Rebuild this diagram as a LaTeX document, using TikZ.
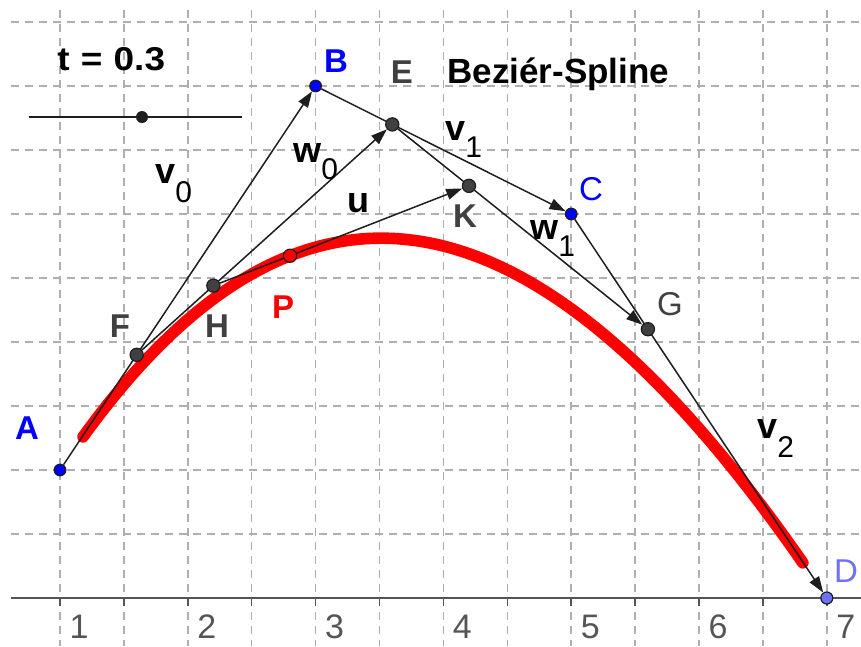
\documentclass[tikz,border=0pt]{standalone}
\usepackage{fontspec}
\setmainfont{Liberation Sans}
\usetikzlibrary{arrows.meta}
\pgfdeclarelayer{bg}
\pgfsetlayers{bg,main}
\definecolor{ptblue}{RGB}{0,0,255}
\definecolor{dlav}{RGB}{112,112,255}
\definecolor{ptgray}{RGB}{64,64,64}
\definecolor{lblgray}{RGB}{64,64,64}
\definecolor{gridgray}{RGB}{175,175,175}
\definecolor{axisgray}{RGB}{85,85,85}
\definecolor{linecol}{RGB}{30,30,30}
\begin{document}
\begin{tikzpicture}[x=63.9pt,y=64pt,
  pt/.style={circle, draw=linecol, line width=0.6pt, inner sep=0pt, minimum size=#1},
  bluept/.style={pt=5.8pt, fill=ptblue},
  graypt/.style={pt=6.6pt, fill=ptgray},
  lbl/.style={anchor=base, inner sep=0pt, font=\fontsize{16.5}{19}\selectfont},
  blbl/.style={lbl, font=\fontsize{16.5}{19}\selectfont\bfseries},
  vec/.style={draw=linecol, line width=0.75pt, -{Triangle[length=8pt,width=5.5pt]}},
  gridline/.style={gridgray, line width=0.75pt, dash pattern=on 4pt off 3pt},
  vlbl/.style={anchor=base west, inner sep=0pt, font=\fontsize{18}{20}\selectfont\bfseries},
]
\useasboundingbox (0.5305,-0.375) rectangle (7.2676,4.6719);

% points
\node[bluept] (A) at (1,1) {};
\node[bluept] (B) at (3,4) {};
\node[bluept] (C) at (5,3) {};
\node[pt=6pt, fill=dlav] (D) at (7,0) {};
\node[graypt] (F) at (1.6,1.9) {};
\node[graypt] (E) at (3.6,3.7) {};
\node[graypt] (G) at (5.6,2.1) {};
\node[graypt] (H) at (2.2,2.44) {};
\node[graypt] (K) at (4.2,3.22) {};
\node[pt=6.6pt, fill=red] (P) at (2.8,2.674) {};

% slider
\coordinate (s1) at (0.7574,3.7578);
\coordinate (s2) at (2.4241,3.7578);
\node[circle, fill=linecol, inner sep=0pt, minimum size=6pt] (sd) at (1.6416,3.7578) {};

\begin{pgfonlayer}{bg}
  % grid
  \foreach \x in {1,1.5,...,7.01}
    \draw[gridline] (\x,4.594) -- (\x,-0.375);
  \foreach \y in {0.5,1,...,4.51}
    \draw[gridline] (0.6166,\y) -- (7.2676,\y);
  % axis
  \draw[axisgray, line width=1pt] (0.6166,0) -- (7.2676,0);
  \foreach \x in {1,1.5,...,7.01}
    \draw[axisgray, line width=0.75pt] (\x,0) -- (\x,-0.065);
  % trace of P
  \draw[red, line width=5.8pt, line cap=round]
    plot[domain=0.03:0.97, samples=120, variable=\s]
    ({1+6*\s}, {(1-\s)^3 + 12*(1-\s)^2*\s + 9*(1-\s)*\s^2});
  % vectors
  \draw[vec] (A) -- (B);
  \draw[vec] (B) -- (C);
  \draw[vec] (C) -- (D);
  \draw[vec] (F) -- (E);
  \draw[vec] (E) -- (G);
  \draw[vec] (H) -- (K);
  % slider line
  \draw[linecol, line width=1pt] (s1) -- (s2);
\end{pgfonlayer}

% axis numbers
\foreach \i in {1,...,7}
  \node[lbl, text=axisgray, font=\fontsize{17}{20}\selectfont] at (\i+0.149,-0.3125) {\i};

% point labels
\node[blbl, text=ptblue] (lA) at (0.742,1.242) {A};
\node[blbl, text=ptblue] (lB) at (3.16,4.109) {B};
\node[lbl, text=ptblue] (lC) at (5.155,3.109) {C};
\node[lbl, text=dlav] (lD) at (7.150,0.125) {D};
\node[blbl, text=lblgray] (lE) at (3.676,4.023) {E};
\node[blbl, text=lblgray] (lF) at (1.469,2.039) {F};
\node[lbl, text=lblgray] (lG) at (5.773,2.211) {G};
\node[blbl, text=lblgray] (lH) at (2.228,2.039) {H};
\node[blbl, text=lblgray] (lK) at (4.169,2.891) {K};
\node[blbl, text=red] (lP) at (2.745,2.1875) {P};

% vector labels
\node[vlbl] (lv0) at (1.743,3.242) {v\raisebox{-9.5pt}{\fontsize{15}{15}\selectfont\mdseries 0}};
\node[vlbl] (lw0) at (2.823,3.406) {w\raisebox{-8.5pt}{\fontsize{15}{15}\selectfont\mdseries 0}};
\node[vlbl] (lu) at (3.246,3.008) {u};
\node[vlbl] (lv1) at (4.0125,3.578) {v\raisebox{-8.5pt}{\fontsize{15}{15}\selectfont\mdseries 1}};
\node[vlbl] (lw1) at (4.678,2.797) {w\raisebox{-8.5pt}{\fontsize{15}{15}\selectfont\mdseries 1}};
\node[vlbl] (lv2) at (6.454,1.25) {v\raisebox{-9.5pt}{\fontsize{15}{15}\selectfont\mdseries 2}};

% titles
\node[anchor=base west, inner sep=0pt, font=\fontsize{16.5}{19}\selectfont\bfseries] (tval) at (0.9765,4.125)
  {\scalebox{1.12}[1]{t\hspace{5pt}=\hspace{5pt}0.3}};
\node[anchor=base west, inner sep=0pt, font=\fontsize{17.5}{20}\selectfont\bfseries] (title) at (4.028,4.023) {Beziér-Spline};
\end{tikzpicture}
\end{document}
